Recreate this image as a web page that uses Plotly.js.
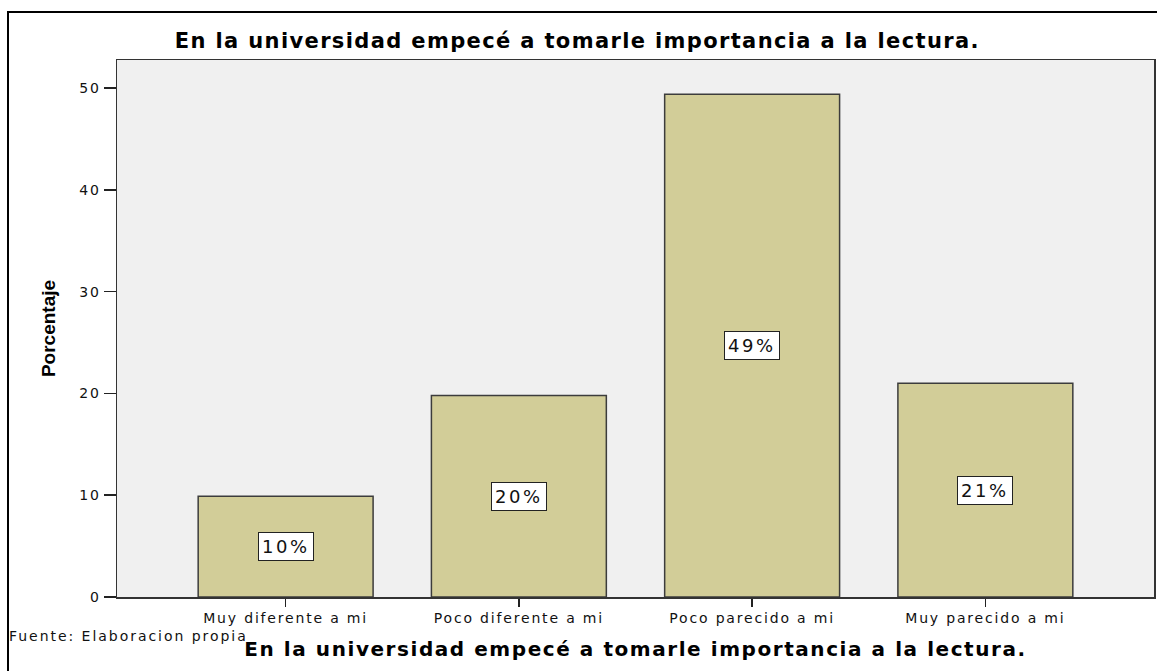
<!DOCTYPE html>
<html><head><meta charset="utf-8">
<script src="https://cdn.plot.ly/plotly-3.0.1.min.js"></script>
<style>
html,body{margin:0;padding:0;background:#fff;overflow:hidden;}
#chart{width:1157px;height:671px;}
#frame{position:absolute;left:7px;top:11px;right:0;bottom:0;border-left:2px solid #000;border-top:2px solid #000;pointer-events:none;}
.gtitle {letter-spacing:0.065em;}
.xtitle {letter-spacing:0.078em;}
.xtick text, .ytick text {letter-spacing:0.13em;}
.annotation-text {letter-spacing:0.14em;}
</style></head>
<body><div id="chart"></div><div id="frame"></div>
<script>
const categories = ['Muy diferente a mi', 'Poco diferente a mi', 'Poco parecido a mi', 'Muy parecido a mi'];
const values = [9.9, 19.8, 49.4, 21.0];
const valueLabels = ['10%', '20%', '49%', '21%'];
const yTicks = [0, 10, 20, 30, 40, 50];
const chartTitle = 'En la universidad empecé a tomarle importancia a la lectura.';
const xTitle = 'En la universidad empecé a tomarle importancia a la lectura.';
const yTitle = 'Porcentaje';
const sourceNote = 'Fuente: Elaboracion propia';

const FONT = 'DejaVu Sans, Verdana, sans-serif';
const YFONT = 'Liberation Sans, Arial, sans-serif';

const trace = {
  type: 'bar',
  x: categories,
  y: values,
  marker: {color: '#d2cd98', line: {color: '#3c3c3c', width: 1.5}},
  hoverinfo: 'skip'
};

const annotations = categories.map((c, i) => ({
  x: c, y: values[i] / 2, xref: 'x', yref: 'y',
  text: valueLabels[i], showarrow: false,
  bgcolor: '#ffffff', bordercolor: '#222222', borderwidth: 1, borderpad: 3,
  font: {family: FONT, size: 18, color: '#111'}
}));
annotations.push({
  xref: 'paper', yref: 'paper', x: -0.106, y: -0.0726,
  xanchor: 'left', yanchor: 'middle', showarrow: false,
  text: sourceNote, font: {family: FONT, size: 14, color: '#111'}
});

const layout = {
  width: 1157, height: 671,
  margin: {l: 117, r: 3, t: 60, b: 74},
  paper_bgcolor: '#ffffff',
  plot_bgcolor: '#f0f0f0',
  showlegend: false,
  bargap: 0.25,
  title: {
    text: chartTitle, xref: 'container', yref: 'container',
    x: 0.499, y: 0.9389, xanchor: 'center', yanchor: 'middle',
    font: {family: FONT, size: 21, color: '#000', weight: 'bold'}
  },
  xaxis: {
    range: [-0.723, 3.723], fixedrange: true,
    showline: true, mirror: true, linecolor: '#333', linewidth: 1.5,
    ticks: 'outside', ticklen: 8, tickwidth: 1.5, tickcolor: '#222',
    tickfont: {family: FONT, size: 14, color: '#111'},
    showgrid: false, zeroline: false, automargin: false,
    title: {text: xTitle, standoff: 16, font: {family: FONT, size: 20, color: '#000', weight: 'bold'}}
  },
  yaxis: {
    range: [0, 52.77], fixedrange: true,
    tickvals: yTicks,
    showline: true, mirror: true, linecolor: '#333', linewidth: 1.5,
    ticks: 'outside', ticklen: 12, tickwidth: 1.5, tickcolor: '#222',
    tickfont: {family: FONT, size: 14, color: '#111'},
    showgrid: false, zeroline: false, automargin: false,
    title: {text: yTitle, standoff: 18, font: {family: YFONT, size: 19, color: '#000', weight: 'bold'}}
  },
  annotations: annotations,
  hovermode: false
};

Plotly.newPlot('chart', [trace], layout, {displayModeBar: false, staticPlot: true});
</script>
</body></html>
